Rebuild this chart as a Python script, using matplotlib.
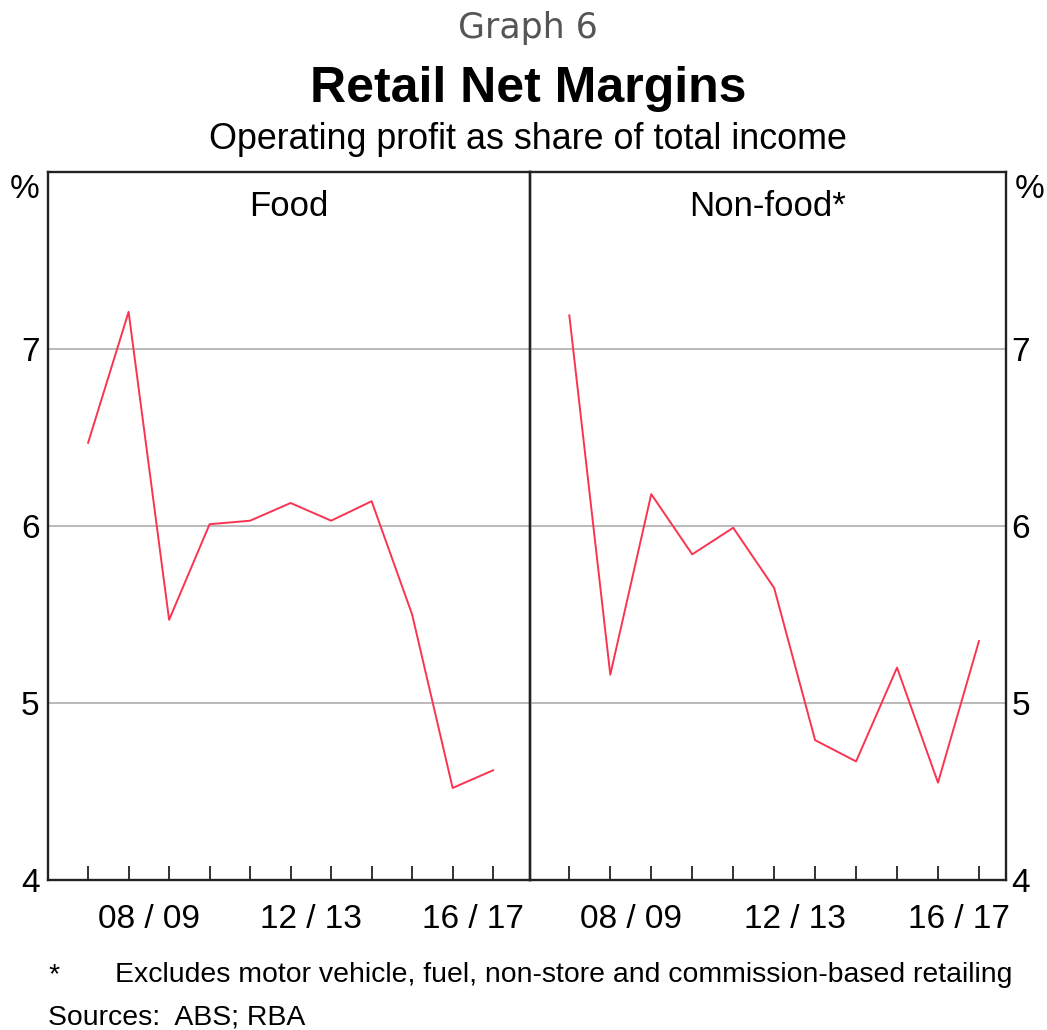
import matplotlib
matplotlib.use("Agg")
import matplotlib.pyplot as plt

years = list(range(2007, 2018))  # end of financial year (June)
food = [6.47, 7.21, 5.47, 6.01, 6.03, 6.13, 6.03, 6.14, 5.50, 4.52, 4.62]
nonfood = [7.19, 5.16, 6.18, 5.84, 5.99, 5.65, 4.79, 4.67, 5.20, 4.55, 5.35]
label_pos = [2008.5, 2012.5, 2016.5]
label_txt = ["08 / 09", "12 / 13", "16 / 17"]
yticks = [4, 5, 6, 7]

W, H = 1047, 1030
fig = plt.figure(figsize=(W / 100, H / 100), dpi=100)
plt.rcParams['font.family'] = ['Liberation Sans', 'DejaVu Sans']

RED = '#fa3450'
GRID = '#b4b4b4'
FS = 24

def px(x0, y0, x1, y1):
    return [x0 / W, 1 - y1 / H, (x1 - x0) / W, (y1 - y0) / H]

axL = fig.add_axes(px(48, 172, 530, 880))
axR = fig.add_axes(px(530, 172, 1006, 880))

for ax, data, xlim, title in [(axL, food, (2006.01, 2017.91), 'Food'),
                              (axR, nonfood, (2006.04, 2017.66), 'Non-food*')]:
    ax.set_facecolor('none')
    ax.set_xlim(*xlim)
    ax.set_ylim(4, 8)
    for yv in [5, 6, 7]:
        ax.axhline(yv, xmin=0.003, xmax=0.997, color=GRID, lw=1.3, zorder=1)
    ax.plot(years, data, color=RED, lw=1.4, zorder=3)
    ax.set_xticks(years)
    ax.set_xticklabels([])
    ax.tick_params(axis='x', which='major', direction='in', length=10, width=1.3, color='#222222')
    ax.set_xticks(label_pos, minor=True)
    ax.set_xticklabels(label_txt, minor=True, fontsize=FS)
    ax.tick_params(axis='x', which='minor', length=0, pad=17)
    ax.set_yticks(yticks)
    ax.set_yticklabels([str(v) for v in yticks], fontsize=FS)
    ax.tick_params(axis='y', length=0, pad=6)
    for s in ax.spines.values():
        s.set_linewidth(1.7)
        s.set_color('#222222')
        s.set_zorder(5)
    ax.text(0.5, 0.975, title, transform=ax.transAxes, ha='center', va='top', fontsize=25)

axR.yaxis.tick_right()
axR.tick_params(axis='y', length=0, pad=4)

fig.text(25 / W, 1 - 190 / H, '%', ha='center', va='center', fontsize=FS)
fig.text(1030 / W, 1 - 190 / H, '%', ha='center', va='center', fontsize=FS)

fig.text(528 / W, 1 - 28 / H, 'Graph 6', ha='center', va='center', fontsize=25,
         color='#555555', family=['DejaVu Sans'])
fig.text(528 / W, 1 - 89 / H, 'Retail Net Margins', ha='center', va='center',
         fontsize=36, fontweight='bold')
fig.text(528 / W, 1 - 140 / H, 'Operating profit as share of total income', ha='center',
         va='center', fontsize=25.8)

fig.text(48 / W, 1 - 975 / H, '*', ha='left', va='center', fontsize=20.4)
fig.text(115 / W, 1 - 975 / H, 'Excludes motor vehicle, fuel, non-store and commission-based retailing',
         ha='left', va='center', fontsize=20.4)
fig.text(48 / W, 1 - 1017 / H, 'Sources:  ABS; RBA', ha='left', va='center', fontsize=20.4)

fig.savefig('out.png', dpi=100)
